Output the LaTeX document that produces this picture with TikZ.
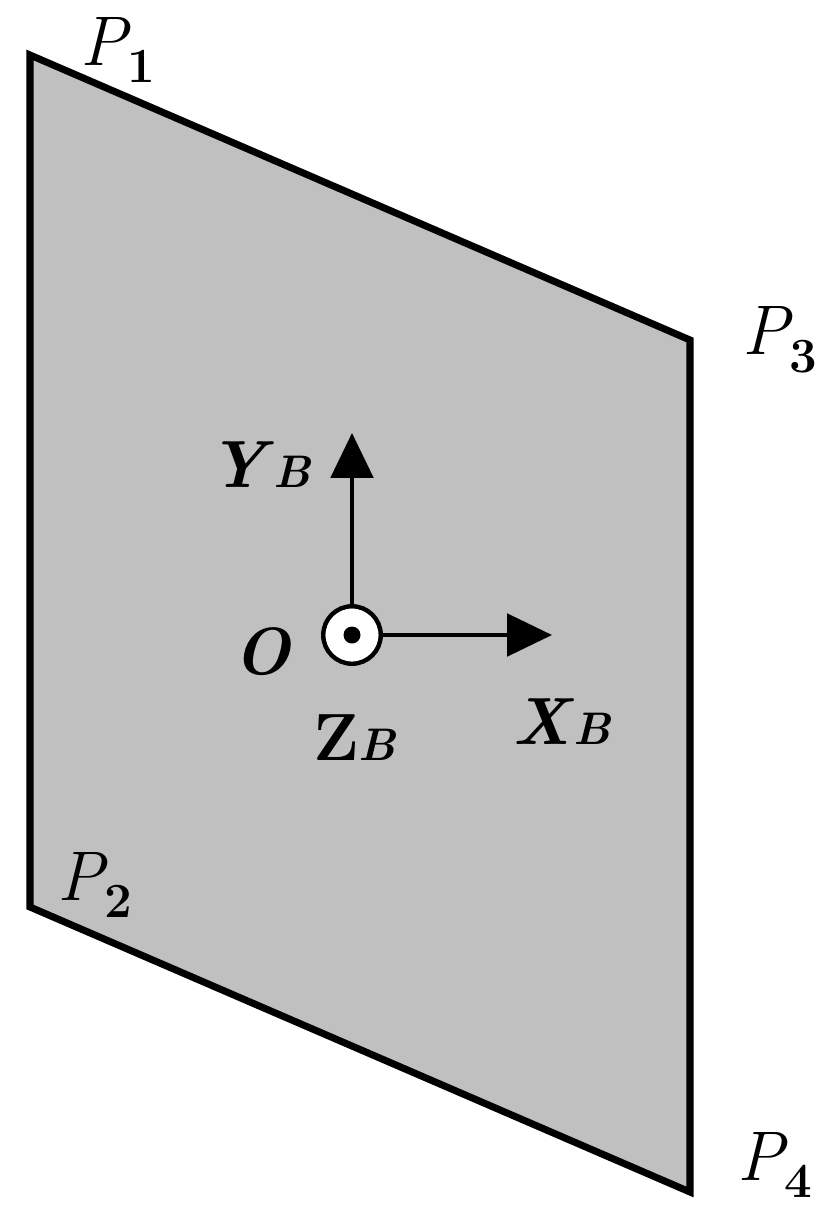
\documentclass[tikz,border=0pt]{standalone}
\usetikzlibrary{arrows.meta}
\definecolor{plate}{HTML}{C0C0C0}
\newcommand{\plab}[1]{\textit{P}\kern-0.05em\raisebox{-0.25em}{\fontsize{28}{30}\selectfont\bfseries #1}}
\begin{document}
\begin{tikzpicture}[x=0.02cm,y=-0.02cm,
  lbl/.style={font=\fontsize{40}{42}\selectfont},
  axlbl/.style={font=\fontsize{38}{40}\selectfont\bfseries},
  axis/.style={line width=2.2pt,-{Triangle[length=0.9cm,width=0.85cm]}}]
\useasboundingbox (0,0) rectangle (830,1217);
\coordinate (P1) at (30,55);
\coordinate (P3) at (690,340);
\coordinate (P4) at (690,1192);
\coordinate (P2) at (30,907);
\fill[plate] (P1) -- (P3) -- (P4) -- (P2) -- cycle;
\draw[line width=4pt,line join=miter] (P1) -- (P3) -- (P4) -- (P2) -- cycle;
\node[lbl] (l1) at (118,50) {\plab{1}};
\node[lbl] (l3) at (780,340) {\plab{3}};
\node[lbl] (l2) at (95,885) {\plab{2}};
\node[lbl] (l4) at (775,1165) {\plab{4}};
\node[circle,draw,fill=white,line width=2.5pt,minimum size=1.15cm,inner sep=0] (o) at (352,635) {};
\fill (o.center) circle (0.17cm);
\coordinate (ytip) at (352,433);
\coordinate (xtip) at (552,635);
\draw[axis] (o.north) -- (ytip);
\draw[axis] (o.east) -- (xtip);
\node[axlbl] (yl) at (260,465) {\textit{Y}\fontsize{26}{28}\selectfont\textit{B}};
\node[axlbl] (ol) at (262,652) {\textit{O}};
\node[axlbl] (zl) at (355,738) {Z\fontsize{26}{28}\selectfont\textit{B}};
\node[axlbl] (xl) at (562,722) {\textit{X}\fontsize{26}{28}\selectfont\textit{B}};
\end{tikzpicture}
\end{document}
